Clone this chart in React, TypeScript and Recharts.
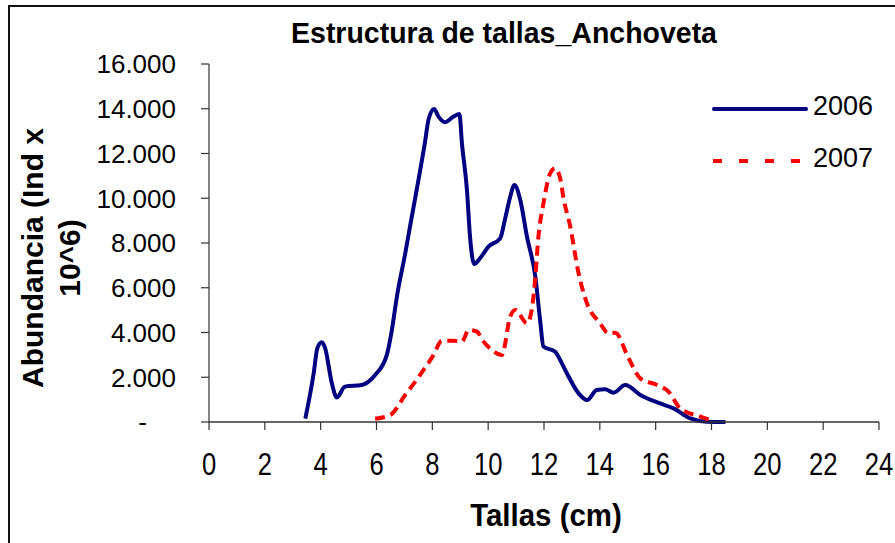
import React from "react";
import { LineChart, Line, XAxis, YAxis } from "recharts";

const tallas2006 = [3.45, 3.75, 3.88, 4.04, 4.16, 4.4, 4.58, 4.87, 5.47, 5.95, 6.37, 6.55, 6.73, 7.03, 7.2, 7.5, 7.74, 7.86, 8.06, 8.22, 8.46, 8.76, 8.97, 9.06, 9.24, 9.35, 9.5, 9.71, 10.01, 10.43, 10.61, 10.79, 10.94, 11.15, 11.39, 11.69, 11.86, 11.98, 12.4, 12.64, 12.82, 13.24, 13.54, 13.89, 14.19, 14.49, 14.91, 15.45, 16.16, 16.64, 17.24, 17.84, 18.5];
const abund2006 = [150, 2180, 3300, 3560, 3300, 1730, 1100, 1580, 1650, 2100, 3000, 4110, 5600, 7540, 8730, 10800, 12530, 13500, 13990, 13650, 13400, 13650, 13770, 12460, 10370, 8280, 7060, 7320, 7840, 8210, 9100, 10070, 10590, 9920, 8280, 6490, 4560, 3370, 3140, 2620, 2180, 1280, 980, 1430, 1460, 1310, 1650, 1210, 830, 610, 160, 15, 0];

const tallas2007 = [5.95, 6.49, 7.03, 7.56, 8.04, 8.34, 8.76, 9.06, 9.3, 9.6, 9.77, 10.13, 10.49, 10.79, 10.97, 11.39, 11.56, 11.69, 11.8, 11.98, 12.22, 12.4, 12.58, 12.7, 12.94, 13.24, 13.54, 14.01, 14.31, 14.55, 15.03, 15.45, 16.05, 16.46, 16.88, 17.6, 17.95];
const abund2007 = [150, 310, 1210, 2100, 2990, 3630, 3630, 3590, 4110, 4040, 3700, 3220, 2990, 4710, 5010, 4410, 5010, 6490, 8280, 9770, 11115, 11340, 10890, 10000, 8730, 6640, 5300, 4410, 3960, 3990, 2850, 1950, 1650, 1360, 610, 240, 90];

const xTicks = [0, 2, 4, 6, 8, 10, 12, 14, 16, 18, 20, 22, 24];
const yTicks = [0, 2000, 4000, 6000, 8000, 10000, 12000, 14000, 16000];

const title = "Estructura de tallas_Anchoveta";
const xTitle = "Tallas (cm)";
const yTitleLines = ["Abundancia (Ind x", "10^6)"];
const seriesNames = ["2006", "2007"];

const data2006 = tallas2006.map((x, i) => ({ x, y: abund2006[i] }));
const data2007 = tallas2007.map((x, i) => ({ x, y: abund2007[i] }));

const FONT = "Arial, 'Liberation Sans', sans-serif";

const fmt = (v: number) =>
  v === 0 ? "-" : v.toLocaleString("de-DE").replace(",", ".");

const YTick = (props: any) => {
  const { x, y, payload } = props;
  const v = payload.value as number;
  return (
    <text
      x={v === 0 ? x - 29 : x}
      y={y}
      dy="0.36em"
      textAnchor="end"
      fontFamily={FONT}
      fontSize={26}
      fill="#000"
    >
      {fmt(v)}
    </text>
  );
};

const XTick = (props: any) => {
  const { x, y, payload } = props;
  return (
    <g transform={`translate(${x},${y})`}>
      <text
        transform="scale(0.8,1)"
        x={0}
        y={0}
        dy="0.72em"
        textAnchor="middle"
        fontFamily={FONT}
        fontSize={32}
        fill="#000"
      >
        {payload.value}
      </text>
    </g>
  );
};

export default function App() {
  return (
    <div
      style={{
        position: "absolute",
        left: 0,
        top: 0,
        width: 895,
        height: 543,
        overflow: "hidden",
        background: "#fff",
      }}
    >
      <div
        style={{
          position: "absolute",
          left: 8,
          top: 5,
          width: 1000,
          height: 700,
          border: "2px solid #111",
        }}
      />
      <div style={{ position: "absolute", left: 0, top: 0 }}>
        <LineChart
          width={895}
          height={543}
          margin={{ top: 64, right: 16, bottom: 21, left: 0 }}
        >
          <XAxis
            type="number"
            dataKey="x"
            domain={[0, 24]}
            ticks={xTicks}
            interval={0}
            height={100}
            tickSize={8}
            tickMargin={22}
            axisLine={{ stroke: "#333", strokeWidth: 1.5 }}
            tickLine={{ stroke: "#333", strokeWidth: 1.2 }}
            tick={<XTick />}
            allowDataOverflow
          />
          <YAxis
            type="number"
            dataKey="y"
            domain={[0, 16000]}
            ticks={yTicks}
            interval={0}
            width={209}
            tickSize={8}
            tickMargin={25}
            axisLine={{ stroke: "#333", strokeWidth: 1.2 }}
            tickLine={{ stroke: "#333", strokeWidth: 1.2 }}
            tick={<YTick />}
          />
          <Line
            data={data2006}
            dataKey="y"
            type="monotone"
            stroke="#000080"
            strokeWidth={4}
            dot={false}
            isAnimationActive={false}
            name={seriesNames[0]}
          />
          <Line
            data={data2007}
            dataKey="y"
            type="monotone"
            stroke="#FF0000"
            strokeWidth={4}
            strokeDasharray="10 6"
            dot={false}
            isAnimationActive={false}
            name={seriesNames[1]}
          />
        </LineChart>
      </div>
      <svg
        width={895}
        height={543}
        style={{ position: "absolute", left: 0, top: 0, pointerEvents: "none" }}
      >
        <g transform="translate(504,43)">
          <text
            transform="scale(0.95,1)"
            textAnchor="middle"
            fontFamily={FONT}
            fontWeight="bold"
            fontSize={30}
            fill="#000"
          >
            {title}
          </text>
        </g>
        <g transform="translate(546,526)">
          <text
            transform="scale(0.95,1)"
            textAnchor="middle"
            fontFamily={FONT}
            fontWeight="bold"
            fontSize={31}
            fill="#000"
          >
            {xTitle}
          </text>
        </g>
        <text
          transform="translate(43,258) rotate(-90)"
          textAnchor="middle"
          fontFamily={FONT}
          fontWeight="bold"
          fontSize={30}
          fill="#000"
        >
          {yTitleLines[0]}
        </text>
        <text
          transform="translate(80,258) rotate(-90)"
          textAnchor="middle"
          fontFamily={FONT}
          fontWeight="bold"
          fontSize={30}
          fill="#000"
        >
          {yTitleLines[1]}
        </text>
        <line x1={714} y1={109} x2={806} y2={109} stroke="#000080" strokeWidth={4} strokeLinecap="round" />
        <text x={813} y={115} fontFamily={FONT} fontSize={27} fill="#000">
          {seriesNames[0]}
        </text>
        <line x1={713} y1={161} x2={806} y2={161} stroke="#FF0000" strokeWidth={4} strokeDasharray="9 17" />
        <text x={813} y={167} fontFamily={FONT} fontSize={27} fill="#000">
          {seriesNames[1]}
        </text>
      </svg>
    </div>
  );
}
